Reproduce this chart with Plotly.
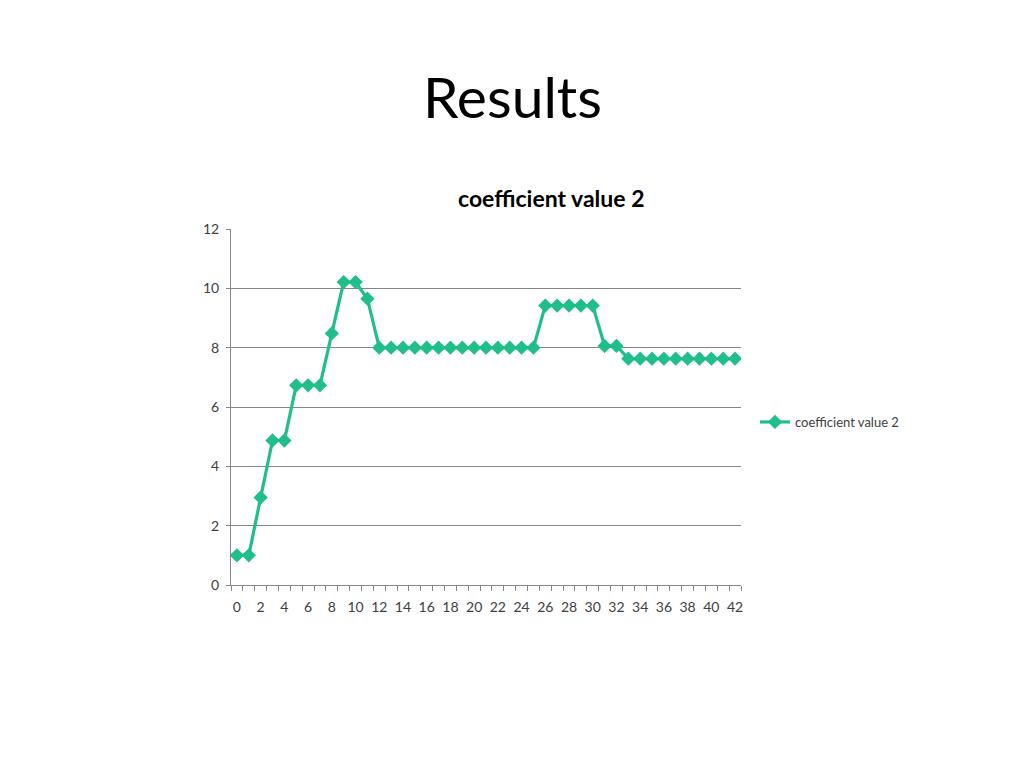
import plotly.graph_objects as go

x_vals = list(range(43))
coef_values = [1.0, 1.0, 2.95, 4.87, 4.87, 6.73, 6.73, 6.73, 8.48, 10.21, 10.21, 9.65,
               8.0, 8.0, 8.0, 8.0, 8.0, 8.0, 8.0, 8.0, 8.0, 8.0, 8.0, 8.0, 8.0, 8.0,
               9.42, 9.42, 9.42, 9.42, 9.42, 8.06, 8.06,
               7.63, 7.63, 7.63, 7.63, 7.63, 7.63, 7.63, 7.63, 7.63, 7.63]
x_tick_vals = list(range(0, 43, 2))
series_name = "coefficient value 2"

color = "#1FBE8B"
font_family = "Lato, 'Open Sans', sans-serif"

# page body has an 8px offset; plot area target: x 231-741, y 229-585
L, T, PW, PH = 223, 221, 510, 356

fig = go.Figure()
fig.add_trace(go.Scatter(
    x=x_vals, y=coef_values, mode="lines+markers", name=series_name,
    line=dict(color=color, width=3.2),
    marker=dict(symbol="diamond", size=11, color=color),
))

fig.update_layout(
    width=1024, height=768,
    paper_bgcolor="white", plot_bgcolor="white",
    margin=dict(l=L, r=1024 - L - PW, t=T, b=768 - T - PH, autoexpand=False),
    font=dict(family=font_family, color="#404040", size=14),
    showlegend=True,
    legend=dict(x=(755 - 231) / PW, y=(585 - 422) / PH, xanchor="left", yanchor="middle",
                font=dict(size=13, color="#404040"), bgcolor="rgba(0,0,0,0)",
                itemwidth=30),
    annotations=[
        dict(text="Results", x=(512 - 231) / PW, y=1 + (229 - 96) / PH,
             xref="paper", yref="paper", xanchor="center", yanchor="middle",
             showarrow=False, font=dict(size=57, color="black", family=font_family)),
        dict(text="<b>coefficient value 2</b>", xref="paper", yref="paper",
             x=(551 - 231) / PW, y=1 + (229 - 198) / PH, xanchor="center", yanchor="middle",
             showarrow=False, font=dict(size=23, color="black", family=font_family)),
    ],
)

fig.update_xaxes(
    range=[-0.5, 42.5], tickmode="array", tickvals=x_tick_vals,
    ticks="", showgrid=False, zeroline=False,
    showline=True, linecolor="#868686", linewidth=1,
    tickfont=dict(size=14, color="#404040"), ticklabelstandoff=9,
    minor=dict(tickmode="linear", tick0=-0.5, dtick=1, ticks="outside",
               ticklen=5, tickcolor="#868686", showgrid=False),
)
fig.update_yaxes(
    range=[0, 12], dtick=2, tick0=0,
    showgrid=True, gridcolor="#868686", gridwidth=1, zeroline=False,
    showline=True, linecolor="#868686", linewidth=1,
    ticks="outside", ticklen=4, tickcolor="#868686",
    tickfont=dict(size=14, color="#404040"), ticklabelstandoff=4,
)

fig.write_html("out.html")
